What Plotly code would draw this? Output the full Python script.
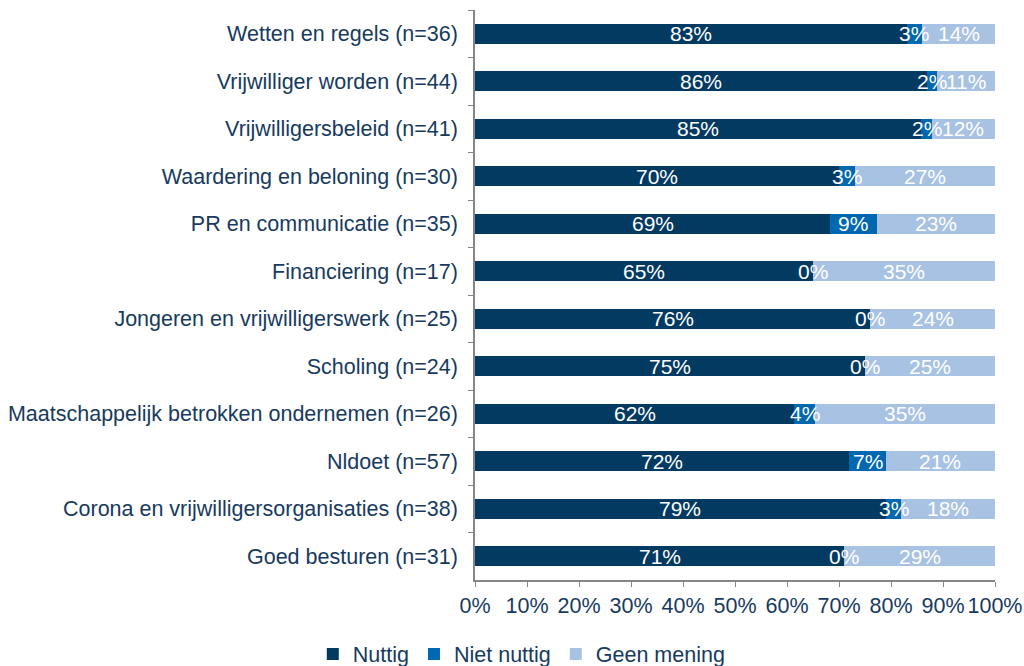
import plotly.graph_objects as go

categories = [
    "Wetten en regels (n=36)",
    "Vrijwilliger worden (n=44)",
    "Vrijwilligersbeleid (n=41)",
    "Waardering en beloning (n=30)",
    "PR en communicatie (n=35)",
    "Financiering (n=17)",
    "Jongeren en vrijwilligerswerk (n=25)",
    "Scholing (n=24)",
    "Maatschappelijk betrokken ondernemen (n=26)",
    "Nldoet (n=57)",
    "Corona en vrijwilligersorganisaties (n=38)",
    "Goed besturen (n=31)",
]
nuttig = [83, 86, 85, 70, 69, 65, 76, 75, 62, 72, 79, 71]
niet_nuttig = [3, 2, 2, 3, 9, 0, 0, 0, 4, 7, 3, 0]
geen_mening = [14, 11, 12, 27, 23, 35, 24, 25, 35, 21, 18, 29]

series = [
    ("Nuttig", nuttig, "#023a62"),
    ("Niet nuttig", niet_nuttig, "#0068b0"),
    ("Geen mening", geen_mening, "#a8c2e4"),
]

text_color = "#173a5e"
font_family = "Liberation Sans, Arial, sans-serif"
fs = 21.5

fig = go.Figure()
for name, vals, col in series:
    fig.add_trace(go.Bar(
        y=categories, x=vals, name=name, orientation="h",
        marker=dict(color=col, line=dict(width=0)),
        hoverinfo="x+y+name",
    ))

# value labels centered in each (normalized) segment
annotations = []
for i, cat in enumerate(categories):
    total = sum(s[1][i] for s in series)
    start = 0.0
    for name, vals, col in series:
        w = vals[i] / total * 100
        annotations.append(dict(
            x=start + w / 2, y=cat, xref="x", yref="y",
            text=f"{vals[i]}%", showarrow=False,
            font=dict(color="white", size=21, family=font_family),
        ))
        start += w

fig.update_layout(
    barmode="stack",
    barnorm="percent",
    bargap=0.58,
    width=1024, height=666,
    margin=dict(l=475, r=29, t=10, b=86, autoexpand=False),
    plot_bgcolor="white",
    paper_bgcolor="white",
    font=dict(family=font_family, size=fs, color=text_color),
    annotations=annotations,
    legend=dict(
        orientation="h", x=0.09, xanchor="center", y=-0.13, yanchor="middle",
        font=dict(size=fs, color=text_color), traceorder="normal",
        itemwidth=30,
    ),
    xaxis=dict(
        range=[0, 100], dtick=10, ticksuffix="%", showgrid=False,
        zeroline=False, showline=True, linecolor="#868686", linewidth=1.5,
        ticks="outside", ticklen=5, tickcolor="#868686",
        tickfont=dict(size=fs, color=text_color),
        fixedrange=True, automargin=False,
    ),
    yaxis=dict(
        categoryorder="array", categoryarray=categories, autorange="reversed",
        showgrid=False, zeroline=False, showline=True, linecolor="#868686",
        linewidth=1.5, ticks="outside", ticklen=5, tickcolor="#868686",
        tickson="boundaries", tickfont=dict(size=fs, color=text_color),
        ticklabelstandoff=11, automargin=False,
    ),
)

fig.write_html(
    "out.html",
    config={"displayModeBar": False},
    post_script="document.body.style.margin='0';document.body.style.overflow='hidden';",
)
